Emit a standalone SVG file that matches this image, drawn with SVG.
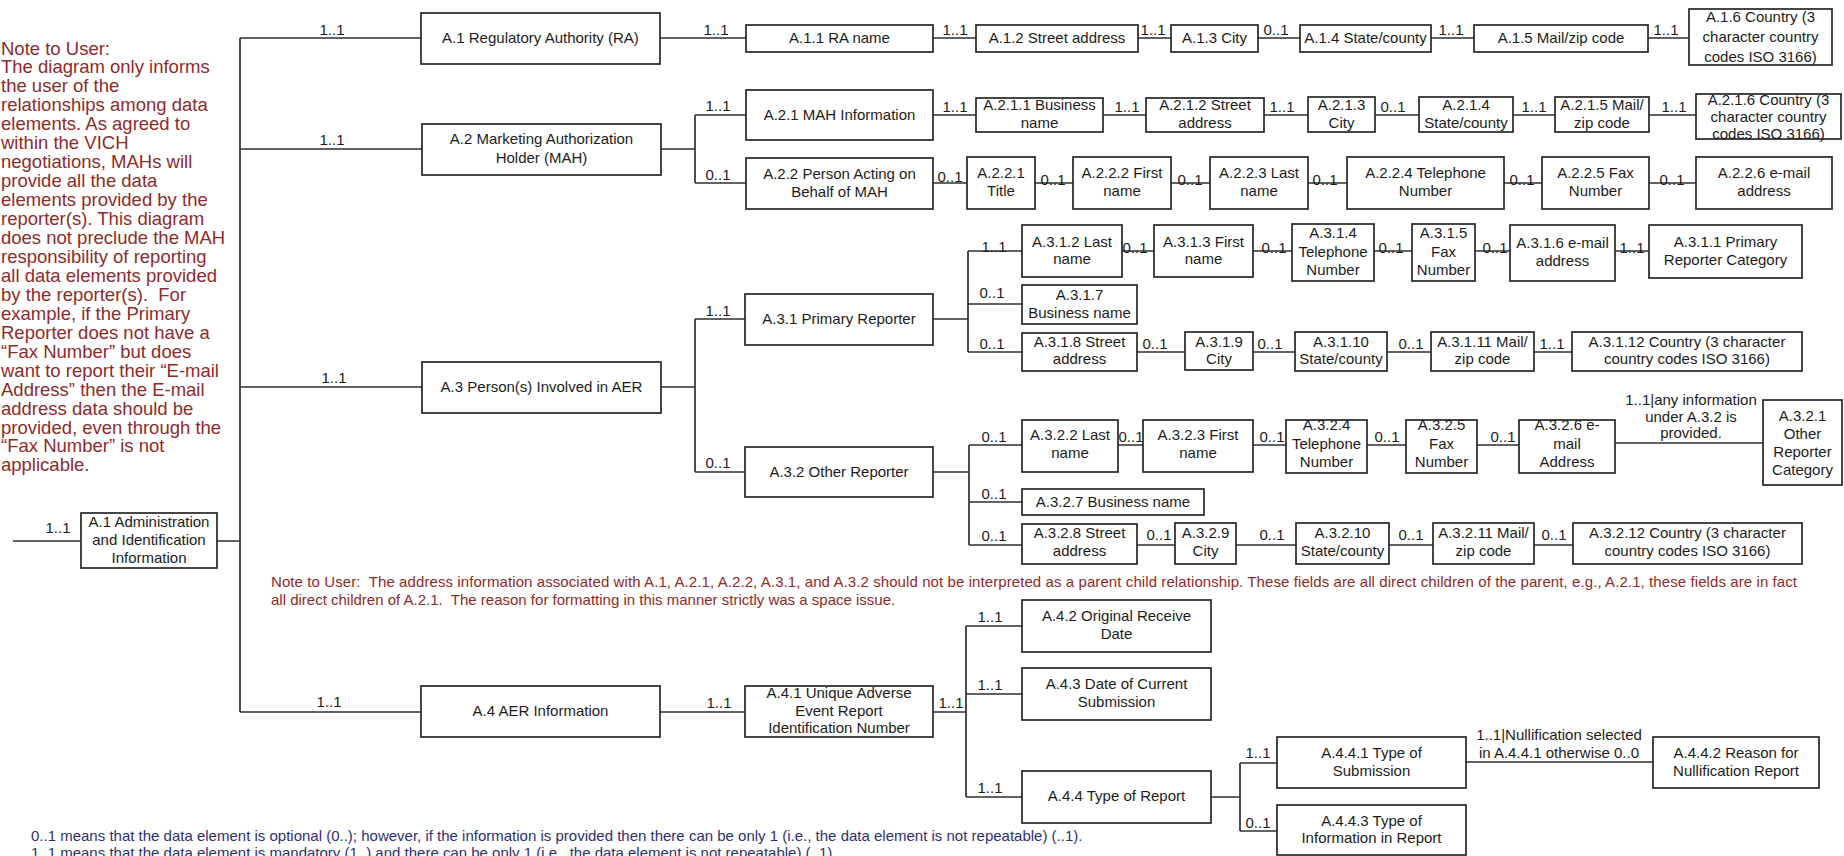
<svg xmlns="http://www.w3.org/2000/svg" width="1844" height="856" viewBox="0 0 1844 856">
<style>
.b{fill:#fff;stroke:#262626;stroke-width:1.7}
.t{font-family:"Liberation Sans",Arial,sans-serif;font-size:15px;fill:#1c1c1c;text-anchor:middle}
.c{fill:none;stroke:#303030;stroke-width:1.7}
.n{font-family:"Liberation Sans",Arial,sans-serif;font-size:18.5px;fill:#8e2b2b}
.m{font-family:"Liberation Sans",Arial,sans-serif;font-size:15px;fill:#8e2b2b}
.g{font-family:"Liberation Sans",Arial,sans-serif;font-size:15px;fill:#2f306e}
</style>
<rect width="1844" height="856" fill="#fff"/>

<g id="connectors">
<path class="c" d="M240,38 V712 M240,38 H421 M240,149 H422 M240,387 H422 M240,712 H421 M13,541 H81 M217,541 H240"/>
<path class="c" d="M660,38 H746 M933,38 H976 M1138,38 H1171 M1258,38 H1300 M1431,38 H1474 M1648,38 H1689"/>
<path class="c" d="M661,149 H695 M695,115 V183 M695,115 H746 M695,183 H746"/>
<path class="c" d="M933,115 H976 M1103,115 H1146 M1264,115 H1308 M1375,115 H1419 M1513,115 H1555 M1649,115 H1696"/>
<path class="c" d="M933,183 H967 M1035,183 H1073 M1171,183 H1210 M1308,183 H1347 M1504,183 H1542 M1649,183 H1696"/>
<path class="c" d="M661,387 H695 M695,319 V472 M695,319 H745 M695,472 H745"/>
<path class="c" d="M933,319 H968 M968,251 V352 M968,251 H1022 M968,304 H1022 M968,352 H1022"/>
<path class="c" d="M1122,251 H1154 M1253,251 H1292 M1374,251 H1412 M1475,251 H1510 M1615,251 H1649"/>
<path class="c" d="M1137,352 H1185 M1253,352 H1295 M1387,352 H1431 M1534,352 H1572"/>
<path class="c" d="M933,472 H969 M969,445 V545 M969,445 H1022 M969,502 H1022 M969,545 H1022"/>
<path class="c" d="M1118,445 H1143 M1253,445 H1286 M1367,445 H1406 M1477,445 H1519 M1615,443 H1763"/>
<path class="c" d="M1137,545 H1175 M1236,545 H1296 M1389,545 H1433 M1534,545 H1573"/>
<path class="c" d="M660,712 H745 M933,712 H966 M966,626 V797 M966,626 H1022 M966,694 H1022 M966,797 H1022 M1211,797 H1240 M1240,763 V831 M1240,763 H1277 M1240,831 H1277 M1466,762 H1653"/>
<g class="t">
<text x="332" y="35.4">1..1</text>
<text x="332" y="145.4">1..1</text>
<text x="334" y="383.4">1..1</text>
<text x="329" y="707.4">1..1</text>
<text x="58" y="533.4">1..1</text>
<text x="716" y="35.4">1..1</text>
<text x="955" y="35.4">1..1</text>
<text x="1153" y="35.4">1..1</text>
<text x="1276" y="35.4">0..1</text>
<text x="1451" y="35.4">1..1</text>
<text x="1666" y="35.4">1..1</text>
<text x="718" y="111.4">1..1</text>
<text x="718" y="180.4">0..1</text>
<text x="955" y="112.4">1..1</text>
<text x="1127" y="112.4">1..1</text>
<text x="1282" y="112.4">1..1</text>
<text x="1393" y="112.4">0..1</text>
<text x="1534" y="112.4">1..1</text>
<text x="1674" y="112.4">1..1</text>
<text x="950" y="182.4">0..1</text>
<text x="1053" y="184.5">0..1</text>
<text x="1190" y="184.5">0..1</text>
<text x="1325" y="184.5">0..1</text>
<text x="1522" y="184.5">0..1</text>
<text x="1672" y="184.5">0..1</text>
<text x="718" y="316.4">1..1</text>
<text x="718" y="468.4">0..1</text>
<text x="994" y="252">1..1</text>
<text x="992" y="298.4">0..1</text>
<text x="992" y="349.4">0..1</text>
<text x="1135" y="252.5">0..1</text>
<text x="1274" y="252.5">0..1</text>
<text x="1391" y="252.5">0..1</text>
<text x="1495" y="252.5">0..1</text>
<text x="1632" y="252.5">1..1</text>
<text x="1155" y="349.4">0..1</text>
<text x="1270" y="349.4">0..1</text>
<text x="1411" y="349.4">0..1</text>
<text x="1552" y="349.4">1..1</text>
<text x="994" y="442.4">0..1</text>
<text x="994" y="499.4">0..1</text>
<text x="994" y="541.4">0..1</text>
<text x="1131" y="442.4">0..1</text>
<text x="1272" y="442.4">0..1</text>
<text x="1387" y="442.4">0..1</text>
<text x="1503" y="442.4">0..1</text>
<text x="1159" y="540.4">0..1</text>
<text x="1272" y="540.4">0..1</text>
<text x="1411" y="540.4">0..1</text>
<text x="1554" y="540.4">0..1</text>
<text x="1691" y="405.4">1..1|any information</text>
<text x="1691" y="422.4">under A.3.2 is</text>
<text x="1691" y="438.4">provided.</text>
<text x="719" y="708.4">1..1</text>
<text x="951" y="708.4">1..1</text>
<text x="990" y="622.4">1..1</text>
<text x="990" y="690.4">1..1</text>
<text x="990" y="793.4">1..1</text>
<text x="1258" y="758.4">1..1</text>
<text x="1258" y="828.4">0..1</text>
<text x="1559" y="740.4">1..1|Nullification selected</text>
<text x="1559" y="758.4">in A.4.4.1 otherwise 0..0</text>
</g>
</g>

<text class="n" x="1" y="54.5" xml:space="preserve"><tspan x="1">Note to User:</tspan><tspan x="1" dy="18.95">The diagram only informs</tspan><tspan x="1" dy="18.95">the user of the</tspan><tspan x="1" dy="18.95">relationships among data</tspan><tspan x="1" dy="18.95">elements. As agreed to</tspan><tspan x="1" dy="18.95">within the VICH</tspan><tspan x="1" dy="18.95">negotiations, MAHs will</tspan><tspan x="1" dy="18.95">provide all the data</tspan><tspan x="1" dy="18.95">elements provided by the</tspan><tspan x="1" dy="18.95">reporter(s). This diagram</tspan><tspan x="1" dy="18.95">does not preclude the MAH</tspan><tspan x="1" dy="18.95">responsibility of reporting</tspan><tspan x="1" dy="18.95">all data elements provided</tspan><tspan x="1" dy="18.95">by the reporter(s).  For</tspan><tspan x="1" dy="18.95">example, if the Primary</tspan><tspan x="1" dy="18.95">Reporter does not have a</tspan><tspan x="1" dy="18.95">“Fax Number” but does</tspan><tspan x="1" dy="18.95">want to report their “E-mail</tspan><tspan x="1" dy="18.95">Address” then the E-mail</tspan><tspan x="1" dy="18.95">address data should be</tspan><tspan x="1" dy="18.95">provided, even through the</tspan><tspan x="1" dy="18.95">“Fax Number” is not</tspan><tspan x="1" dy="18.95">applicable.</tspan></text>

<text class="m" x="271" y="587" textLength="1526" xml:space="preserve">Note to User:  The address information associated with A.1, A.2.1, A.2.2, A.3.1, and A.3.2 should not be interpreted as a parent child relationship. These fields are all direct children of the parent, e.g., A.2.1, these fields are in fact</text>
<text class="m" x="271" y="605" xml:space="preserve">all direct children of A.2.1.  The reason for formatting in this manner strictly was a space issue.</text>

<text class="g" x="31" y="841">0..1 means that the data element is optional (0..); however, if the information is provided then there can be only 1 (i.e., the data element is not repeatable) (..1).</text>
<text class="g" x="31" y="858">1..1 means that the data element is mandatory (1..) and there can be only 1 (i.e., the data element is not repeatable) (..1).</text>

<g id="a1admin"><rect class="b" x="81" y="513" width="136" height="55"/><text class="t" x="149" y="527.4"><tspan x="149">A.1 Administration</tspan><tspan x="149" dy="18">and Identification</tspan><tspan x="149" dy="18">Information</tspan></text></g>

<g id="a1"><rect class="b" x="421" y="13" width="239" height="51"/><text class="t" x="540.5" y="43.4">A.1 Regulatory Authority (RA)</text></g>
<g id="a2"><rect class="b" x="422" y="124" width="239" height="51"/><text class="t" x="541.5" y="144.4"><tspan x="541.5">A.2 Marketing Authorization</tspan><tspan x="541.5" dy="19">Holder (MAH)</tspan></text></g>
<g id="a3"><rect class="b" x="422" y="362" width="239" height="51"/><text class="t" x="541.5" y="392.4">A.3 Person(s) Involved in AER</text></g>
<g id="a4"><rect class="b" x="421" y="686" width="239" height="51"/><text class="t" x="540.5" y="716.4">A.4 AER Information</text></g>

<g id="a11"><rect class="b" x="746" y="25" width="187" height="27"/><text class="t" x="839.5" y="43.4">A.1.1 RA name</text></g>
<g id="a12"><rect class="b" x="976" y="25" width="162" height="27"/><text class="t" x="1057" y="43.4">A.1.2 Street address</text></g>
<g id="a13"><rect class="b" x="1171" y="25" width="87" height="27"/><text class="t" x="1214.5" y="43.4">A.1.3 City</text></g>
<g id="a14"><rect class="b" x="1300" y="25" width="131" height="27"/><text class="t" x="1365.5" y="43.4">A.1.4 State/county</text></g>
<g id="a15"><rect class="b" x="1474" y="25" width="174" height="27"/><text class="t" x="1561" y="43.4">A.1.5 Mail/zip code</text></g>
<g id="a16"><rect class="b" x="1689" y="9" width="143" height="56"/><text class="t" x="1760.5" y="22.4"><tspan x="1760.5">A.1.6 Country (3</tspan><tspan x="1760.5" dy="19.8">character country</tspan><tspan x="1760.5" dy="19.8">codes ISO 3166)</tspan></text></g>

<g id="a21"><rect class="b" x="746" y="90" width="187" height="50"/><text class="t" x="839.5" y="120.4">A.2.1 MAH Information</text></g>
<g id="a211"><rect class="b" x="976" y="98" width="127" height="34"/><text class="t" x="1039.5" y="110.4"><tspan x="1039.5">A.2.1.1 Business</tspan><tspan x="1039.5" dy="18">name</tspan></text></g>
<g id="a212"><rect class="b" x="1146" y="98" width="118" height="34"/><text class="t" x="1205" y="110.4"><tspan x="1205">A.2.1.2 Street</tspan><tspan x="1205" dy="18">address</tspan></text></g>
<g id="a213"><rect class="b" x="1308" y="97" width="67" height="35"/><text class="t" x="1341.5" y="110.4"><tspan x="1341.5">A.2.1.3</tspan><tspan x="1341.5" dy="18">City</tspan></text></g>
<g id="a214"><rect class="b" x="1419" y="97" width="94" height="35"/><text class="t" x="1466" y="110.4"><tspan x="1466">A.2.1.4</tspan><tspan x="1466" dy="18">State/county</tspan></text></g>
<g id="a215"><rect class="b" x="1555" y="97" width="94" height="35"/><text class="t" x="1602" y="110.4"><tspan x="1602">A.2.1.5 Mail/</tspan><tspan x="1602" dy="18">zip code</tspan></text></g>
<g id="a216"><rect class="b" x="1696" y="94" width="145" height="45"/><text class="t" x="1768.5" y="105"><tspan x="1768.5">A.2.1.6 Country (3</tspan><tspan x="1768.5" dy="16.8">character country</tspan><tspan x="1768.5" dy="16.8">codes ISO 3166)</tspan></text></g>

<g id="a22"><rect class="b" x="746" y="158" width="187" height="51"/><text class="t" x="839.5" y="179.4"><tspan x="839.5">A.2.2 Person Acting on</tspan><tspan x="839.5" dy="18">Behalf of MAH</tspan></text></g>
<g id="a221"><rect class="b" x="967" y="157" width="68" height="52"/><text class="t" x="1001" y="178.4"><tspan x="1001">A.2.2.1</tspan><tspan x="1001" dy="18">Title</tspan></text></g>
<g id="a222"><rect class="b" x="1073" y="157" width="98" height="52"/><text class="t" x="1122" y="178.4"><tspan x="1122">A.2.2.2 First</tspan><tspan x="1122" dy="18">name</tspan></text></g>
<g id="a223"><rect class="b" x="1210" y="157" width="98" height="52"/><text class="t" x="1259" y="178.4"><tspan x="1259">A.2.2.3 Last</tspan><tspan x="1259" dy="18">name</tspan></text></g>
<g id="a224"><rect class="b" x="1347" y="157" width="157" height="52"/><text class="t" x="1425.5" y="178.4"><tspan x="1425.5">A.2.2.4 Telephone</tspan><tspan x="1425.5" dy="18">Number</tspan></text></g>
<g id="a225"><rect class="b" x="1542" y="157" width="107" height="52"/><text class="t" x="1595.5" y="178.4"><tspan x="1595.5">A.2.2.5 Fax</tspan><tspan x="1595.5" dy="18">Number</tspan></text></g>
<g id="a226"><rect class="b" x="1696" y="157" width="136" height="52"/><text class="t" x="1764" y="178.4"><tspan x="1764">A.2.2.6 e-mail</tspan><tspan x="1764" dy="18">address</tspan></text></g>

<g id="a31"><rect class="b" x="745" y="294" width="188" height="51"/><text class="t" x="839" y="324.4">A.3.1 Primary Reporter</text></g>
<g id="a312"><rect class="b" x="1022" y="225" width="100" height="52"/><text class="t" x="1072" y="247.4"><tspan x="1072">A.3.1.2 Last</tspan><tspan x="1072" dy="17">name</tspan></text></g>
<g id="a313"><rect class="b" x="1154" y="225" width="99" height="52"/><text class="t" x="1203.5" y="247.4"><tspan x="1203.5">A.3.1.3 First</tspan><tspan x="1203.5" dy="17">name</tspan></text></g>
<g id="a314"><rect class="b" x="1292" y="224" width="82" height="57"/><text class="t" x="1333" y="238.4"><tspan x="1333">A.3.1.4</tspan><tspan x="1333" dy="18.5">Telephone</tspan><tspan x="1333" dy="18.5">Number</tspan></text></g>
<g id="a315"><rect class="b" x="1412" y="224" width="63" height="57"/><text class="t" x="1443.5" y="238.4"><tspan x="1443.5">A.3.1.5</tspan><tspan x="1443.5" dy="18.5">Fax</tspan><tspan x="1443.5" dy="18.5">Number</tspan></text></g>
<g id="a316"><rect class="b" x="1510" y="225" width="105" height="56"/><text class="t" x="1562.5" y="248.4"><tspan x="1562.5">A.3.1.6 e-mail</tspan><tspan x="1562.5" dy="18">address</tspan></text></g>
<g id="a311"><rect class="b" x="1649" y="225" width="153" height="53"/><text class="t" x="1725.5" y="247.4"><tspan x="1725.5">A.3.1.1 Primary</tspan><tspan x="1725.5" dy="18">Reporter Category</tspan></text></g>
<g id="a317"><rect class="b" x="1022" y="285" width="115" height="39"/><text class="t" x="1079.5" y="300.4"><tspan x="1079.5">A.3.1.7</tspan><tspan x="1079.5" dy="18">Business name</tspan></text></g>
<g id="a318"><rect class="b" x="1022" y="333" width="115" height="38"/><text class="t" x="1079.5" y="347.4"><tspan x="1079.5">A.3.1.8 Street</tspan><tspan x="1079.5" dy="17">address</tspan></text></g>
<g id="a319"><rect class="b" x="1185" y="332" width="68" height="38"/><text class="t" x="1219" y="347.4"><tspan x="1219">A.3.1.9</tspan><tspan x="1219" dy="17">City</tspan></text></g>
<g id="a3110"><rect class="b" x="1295" y="332" width="92" height="39"/><text class="t" x="1341" y="347.4"><tspan x="1341">A.3.1.10</tspan><tspan x="1341" dy="17">State/county</tspan></text></g>
<g id="a3111"><rect class="b" x="1431" y="332" width="103" height="39"/><text class="t" x="1482.5" y="347.4"><tspan x="1482.5">A.3.1.11 Mail/</tspan><tspan x="1482.5" dy="17">zip code</tspan></text></g>
<g id="a3112"><rect class="b" x="1572" y="332" width="230" height="39"/><text class="t" x="1687" y="347.4"><tspan x="1687">A.3.1.12 Country (3 character</tspan><tspan x="1687" dy="17">country codes ISO 3166)</tspan></text></g>

<g id="a32"><rect class="b" x="745" y="447" width="188" height="50"/><text class="t" x="839" y="477.4">A.3.2 Other Reporter</text></g>
<g id="a322"><rect class="b" x="1022" y="420" width="96" height="52"/><text class="t" x="1070" y="440.4"><tspan x="1070">A.3.2.2 Last</tspan><tspan x="1070" dy="18">name</tspan></text></g>
<g id="a323"><rect class="b" x="1143" y="420" width="110" height="52"/><text class="t" x="1198" y="440.4"><tspan x="1198">A.3.2.3 First</tspan><tspan x="1198" dy="18">name</tspan></text></g>
<g id="a324"><rect class="b" x="1286" y="420" width="81" height="53"/><text class="t" x="1326.5" y="430.4"><tspan x="1326.5">A.3.2.4</tspan><tspan x="1326.5" dy="18.5">Telephone</tspan><tspan x="1326.5" dy="18.5">Number</tspan></text></g>
<g id="a325"><rect class="b" x="1406" y="420" width="71" height="53"/><text class="t" x="1441.5" y="430.4"><tspan x="1441.5">A.3.2.5</tspan><tspan x="1441.5" dy="18.5">Fax</tspan><tspan x="1441.5" dy="18.5">Number</tspan></text></g>
<g id="a326"><rect class="b" x="1519" y="420" width="96" height="53"/><text class="t" x="1567" y="430.4"><tspan x="1567">A.3.2.6 e-</tspan><tspan x="1567" dy="18.5">mail</tspan><tspan x="1567" dy="18.5">Address</tspan></text></g>
<g id="a321"><rect class="b" x="1763" y="400" width="79" height="85"/><text class="t" x="1802.5" y="421.4"><tspan x="1802.5">A.3.2.1</tspan><tspan x="1802.5" dy="18">Other</tspan><tspan x="1802.5" dy="18">Reporter</tspan><tspan x="1802.5" dy="18">Category</tspan></text></g>
<g id="a327"><rect class="b" x="1022" y="489" width="182" height="26"/><text class="t" x="1113" y="507.4">A.3.2.7 Business name</text></g>
<g id="a328"><rect class="b" x="1022" y="524" width="115" height="40"/><text class="t" x="1079.5" y="538.4"><tspan x="1079.5">A.3.2.8 Street</tspan><tspan x="1079.5" dy="18">address</tspan></text></g>
<g id="a329"><rect class="b" x="1175" y="523" width="61" height="41"/><text class="t" x="1205.5" y="538.4"><tspan x="1205.5">A.3.2.9</tspan><tspan x="1205.5" dy="18">City</tspan></text></g>
<g id="a3210"><rect class="b" x="1296" y="523" width="93" height="41"/><text class="t" x="1342.5" y="538.4"><tspan x="1342.5">A.3.2.10</tspan><tspan x="1342.5" dy="18">State/county</tspan></text></g>
<g id="a3211"><rect class="b" x="1433" y="523" width="101" height="41"/><text class="t" x="1483.5" y="538.4"><tspan x="1483.5">A.3.2.11 Mail/</tspan><tspan x="1483.5" dy="18">zip code</tspan></text></g>
<g id="a3212"><rect class="b" x="1573" y="523" width="229" height="41"/><text class="t" x="1687.5" y="538.4"><tspan x="1687.5">A.3.2.12 Country (3 character</tspan><tspan x="1687.5" dy="18">country codes ISO 3166)</tspan></text></g>

<g id="a41"><rect class="b" x="745" y="686" width="188" height="51"/><text class="t" x="839" y="698.4"><tspan x="839">A.4.1 Unique Adverse</tspan><tspan x="839" dy="17.5">Event Report</tspan><tspan x="839" dy="17.5">Identification Number</tspan></text></g>
<g id="a42"><rect class="b" x="1022" y="600" width="189" height="52"/><text class="t" x="1116.5" y="621.4"><tspan x="1116.5">A.4.2 Original Receive</tspan><tspan x="1116.5" dy="18">Date</tspan></text></g>
<g id="a43"><rect class="b" x="1022" y="668" width="189" height="52"/><text class="t" x="1116.5" y="689.4"><tspan x="1116.5">A.4.3 Date of Current</tspan><tspan x="1116.5" dy="18">Submission</tspan></text></g>
<g id="a44"><rect class="b" x="1022" y="771" width="189" height="52"/><text class="t" x="1116.5" y="801.4">A.4.4 Type of Report</text></g>
<g id="a441"><rect class="b" x="1277" y="737" width="189" height="51"/><text class="t" x="1371.5" y="758.4"><tspan x="1371.5">A.4.4.1 Type of</tspan><tspan x="1371.5" dy="18">Submission</tspan></text></g>
<g id="a443"><rect class="b" x="1277" y="805" width="189" height="50"/><text class="t" x="1371.5" y="826.4"><tspan x="1371.5">A.4.4.3 Type of</tspan><tspan x="1371.5" dy="17">Information in Report</tspan></text></g>
<g id="a442"><rect class="b" x="1653" y="737" width="166" height="51"/><text class="t" x="1736" y="758.4"><tspan x="1736">A.4.4.2 Reason for</tspan><tspan x="1736" dy="18">Nullification Report</tspan></text></g>
</svg>
